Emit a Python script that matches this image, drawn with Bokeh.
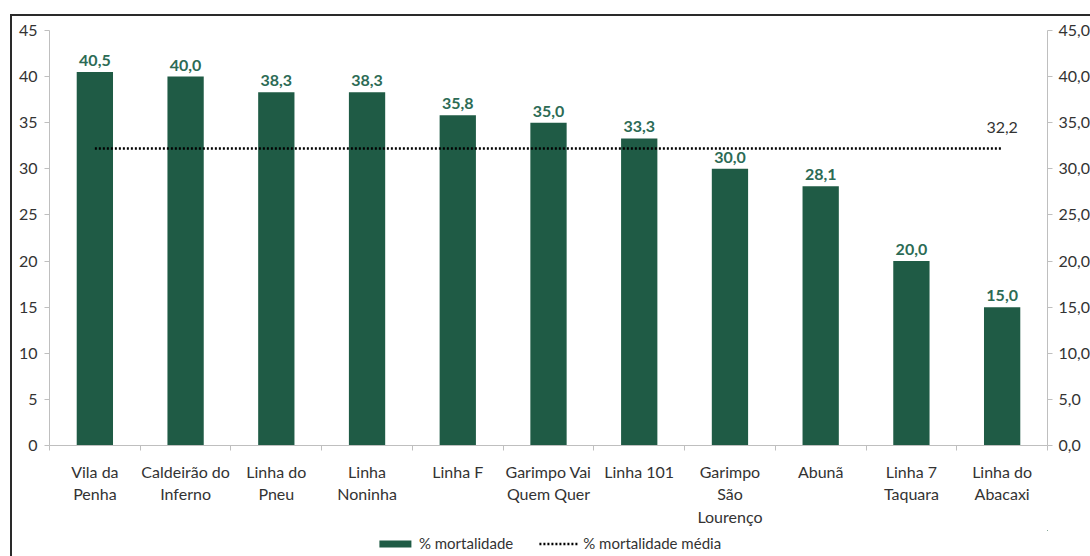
from bokeh.plotting import figure
from bokeh.layouts import column
from bokeh.models import (ColumnDataSource, Range1d, LinearAxis, FixedTicker,
                          Legend, LegendItem)
from bokeh.core.properties import value
from bokeh.embed import file_html
from bokeh.resources import INLINE

categories = ["Vila da\nPenha", "Caldeirão do\nInferno", "Linha do\nPneu", "Linha\nNoninha",
              "Linha F", "Garimpo Vai\nQuem Quer", "Linha 101", "Garimpo\nSão\nLourenço",
              "Abunã", "Linha 7\nTaquara", "Linha do\nAbacaxi"]
mortalidade = [40.5, 40.0, 38.3, 38.3, 35.8, 35.0, 33.3, 30.0, 28.1, 20.0, 15.0]
media = 32.2
left_ticks = [0, 5, 10, 15, 20, 25, 30, 35, 40, 45]
right_tick_labels = ["0,0", "5,0", "10,0", "15,0", "20,0", "25,0", "30,0", "35,0", "40,0", "45,0"]
series_names = ["% mortalidade", "% mortalidade média"]

FONT = "Lato"
BAR = "#1f5b45"
LBL = "#2c6b55"
TXT = "#333333"
AX = "#bfbfbf"

n = len(categories)
xs = [i + 0.5 for i in range(n)]
src = ColumnDataSource(dict(x=xs, y=mortalidade,
                            lab=[f"{v:.1f}".replace(".", ",") for v in mortalidade]))
line_src = ColumnDataSource(dict(x=[xs[0], xs[-1]], y=[media, media]))

p = figure(width=1080, height=514, output_backend="svg", toolbar_location=None,
           x_range=Range1d(0, n), y_range=Range1d(0, 45),
           min_border_left=37, min_border_top=14, min_border_right=43, min_border_bottom=85)
p.outline_line_color = None
p.xgrid.visible = False
p.ygrid.visible = False
p.background_fill_color = "white"
p.border_fill_color = "white"

bar_style = dict(fill_color=BAR, line_color=None)
line_style = dict(line_color="black", line_width=2.5, line_dash="2 2")

p.vbar(x="x", top="y", width=0.4, source=src, **bar_style)
p.text(x="x", y="y", text="lab", source=src, text_align="center", text_baseline="bottom",
       y_offset=-6, text_font=value(FONT), text_font_size="16px", text_font_style="bold",
       text_color=LBL)

p.line(x="x", y="y", source=line_src, **line_style)
p.text(x=[xs[-1]], y=[media], text=[f"{media:.1f}".replace(".", ",")], text_align="center",
       text_baseline="bottom", y_offset=-16, text_font=value(FONT), text_font_size="16px",
       text_color=TXT)

# x axis
xa = p.xaxis[0]
xa.ticker = FixedTicker(ticks=xs, minor_ticks=list(range(n + 1)))
xa.major_label_overrides = {x: c for x, c in zip(xs, categories)}
xa.major_tick_line_color = None
xa.minor_tick_line_color = AX
xa.minor_tick_out = 5
xa.minor_tick_in = 0
xa.axis_line_color = AX
xa.major_label_standoff = 10
xa.major_label_text_font = FONT
xa.major_label_text_font_size = "16px"
xa.major_label_text_color = TXT

# left y axis
ya = p.yaxis[0]
ya.ticker = FixedTicker(ticks=left_ticks)
ya.axis_line_color = AX
ya.major_tick_line_color = AX
ya.major_tick_out = 5
ya.major_tick_in = 0
ya.minor_tick_line_color = None
ya.major_label_standoff = 7
ya.major_label_text_font = FONT
ya.major_label_text_font_size = "16px"
ya.major_label_text_color = TXT

# right y axis
p.extra_y_ranges = {"right": Range1d(0, 45)}
ra = LinearAxis(y_range_name="right", ticker=FixedTicker(ticks=left_ticks))
ra.major_label_overrides = {t: l for t, l in zip(left_ticks, right_tick_labels)}
ra.axis_line_color = AX
ra.major_tick_line_color = AX
ra.major_tick_out = 5
ra.major_tick_in = 0
ra.minor_tick_line_color = None
ra.major_label_standoff = 6
ra.major_label_text_font = FONT
ra.major_label_text_font_size = "16px"
ra.major_label_text_color = TXT
p.add_layout(ra, "right")

# legend strip (renderers share the data but lie outside this strip's view)
leg = figure(width=1080, height=26, output_backend="svg", toolbar_location=None,
             x_axis_type=None, y_axis_type=None,
             x_range=Range1d(-200, -199), y_range=Range1d(-200, -199), min_border=0)
leg.outline_line_color = None
leg.xgrid.visible = False
leg.ygrid.visible = False
lb = leg.vbar(x="x", top="y", width=0.4, source=src, **bar_style)
ll = leg.line(x="x", y="y", source=line_src, **line_style)
legend = Legend(items=[LegendItem(label=series_names[0], renderers=[lb]),
                       LegendItem(label=series_names[1], renderers=[ll])],
                orientation="horizontal", location="center",
                glyph_width=40, glyph_height=9, label_standoff=4, spacing=26,
                padding=0, margin=0, border_line_color=None, background_fill_alpha=0,
                label_text_font=FONT, label_text_font_size="15px", label_text_color=TXT)
leg.add_layout(legend, "center")

layout = column(p, leg, spacing=0)
layout.margin = (14, 0, 0, 10)
layout.styles = {"border-left": "2px solid #2a2a2a", "border-top": "2px solid #2a2a2a",
                 "background": "white"}

open("out.html", "w").write(file_html(layout, INLINE))
